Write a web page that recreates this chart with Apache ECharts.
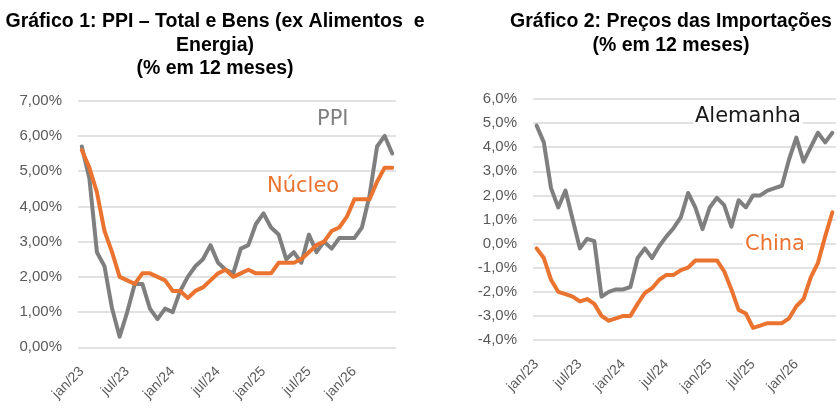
<!DOCTYPE html>
<html lang="pt">
<head>
    <meta charset="UTF-8">
    <title>PPI e Preços das Importações</title>
    <script src="https://cdn.jsdelivr.net/npm/echarts@6.0.0/dist/echarts.min.js"></script>
    <style>
        html, body { margin: 0; padding: 0; background: #fff; }
    </style>
</head>
<body>
    <div id="main" style="width: 840px; height: 420px;"></div>

    <script type="text/javascript">
        // meses jan/23 .. jun/26
        const months = ['jan','fev','mar','abr','mai','jun','jul','ago','set','out','nov','dez'];
        const categories = [];
        for (let y = 23; y <= 26; y++) {
            months.forEach(m => categories.push(m + '/' + y));
        }
        categories.length = 42;

        // Gráfico 1
        const ppi = [5.7, 4.8, 2.7, 2.3, 1.1, 0.3, 1.0, 1.8, 1.8, 1.1, 0.8, 1.1,
                     1.0, 1.6, 2.0, 2.3, 2.5, 2.9, 2.4, 2.2, 2.1, 2.8, 2.9, 3.5,
                     3.8, 3.4, 3.2, 2.5, 2.7, 2.4, 3.2, 2.7, 3.0, 2.8, 3.1, 3.1,
                     3.1, 3.4, 4.3, 5.7, 6.0, 5.5];
        const nucleo = [5.6, 5.1, 4.4, 3.3, 2.7, 2.0, 1.9, 1.8, 2.1, 2.1, 2.0, 1.9,
                        1.6, 1.6, 1.4, 1.6, 1.7, 1.9, 2.1, 2.2, 2.0, 2.1, 2.2, 2.1,
                        2.1, 2.1, 2.4, 2.4, 2.4, 2.5, 2.7, 2.9, 3.0, 3.3, 3.4, 3.7,
                        4.2, 4.2, 4.2, 4.7, 5.1, 5.1];

        // Gráfico 2
        const alemanha = [4.9, 4.2, 2.3, 1.5, 2.2, 1.0, -0.2, 0.2, 0.1, -2.2, -2.0, -1.9,
                          -1.9, -1.8, -0.6, -0.2, -0.6, -0.1, 0.3, 0.65, 1.1, 2.1, 1.5, 0.6,
                          1.5, 1.9, 1.6, 0.7, 1.8, 1.5, 2.0, 2.0, 2.2, 2.3, 2.4, 3.5,
                          4.4, 3.4, 4.0, 4.6, 4.2, 4.6];
        const china = [-0.2, -0.6, -1.5, -2.0, -2.1, -2.2, -2.4, -2.3, -2.5, -3.0, -3.2, -3.1,
                       -3.0, -3.0, -2.5, -2.05, -1.85, -1.5, -1.3, -1.3, -1.1, -1.0, -0.7, -0.7,
                       -0.7, -0.7, -1.15, -1.9, -2.75, -2.9, -3.5, -3.4, -3.3, -3.3, -3.3, -3.1,
                       -2.6, -2.3, -1.4, -0.8, 0.3, 1.3];

        const grey = '#7f7f7f';
        const orange = '#eb7330';
        const labelColor = '#595959';

        let myChart = echarts.init(document.getElementById('main'));

        const xAxisBase = {
            type: 'category',
            data: categories,
            boundaryGap: true,
            axisLine: {show: false},
            axisTick: {show: false},
            axisLabel: {
                interval: 5,
                rotate: 45,
                margin: 22,
                color: labelColor,
                fontFamily: 'Liberation Sans',
                fontSize: 14
            }
        };

        const yAxisBase = {
            type: 'value',
            interval: 1,
            axisLine: {show: false},
            axisTick: {show: false},
            splitLine: {lineStyle: {color: '#d9d9d9', width: 1.5}},
            axisLabel: {
                margin: 16,
                color: labelColor,
                fontFamily: 'Liberation Sans',
                fontSize: 15
            }
        };

        const lineBase = {
            type: 'line',
            symbol: 'none',
            smooth: false,
            lineStyle: {width: 4, join: 'round', cap: 'round'}
        };

        const titleStyle = {
            fontFamily: 'Liberation Sans',
            fontWeight: 'bold',
            fontSize: 19.5,
            lineHeight: 23.5,
            color: '#000'
        };

        const annot = (x, y, text, color) => ({
            type: 'text',
            x: x, y: y,
            z: 100,
            style: {
                text: text,
                fill: color,
                font: '21px "DejaVu Sans"',
                textVerticalAlign: 'middle',
                backgroundColor: '#fff',
                padding: [0, 2]
            }
        });

        let options = {
            animation: false,
            title: [
                {
                    text: 'Gráfico 1: PPI – Total e Bens (ex Alimentos  e\nEnergia)\n(% em 12 meses)',
                    left: 215, top: 10, padding: 0,
                    textAlign: 'center',
                    textStyle: titleStyle
                },
                {
                    text: 'Gráfico 2: Preços das Importações\n(% em 12 meses)',
                    left: 671, top: 10, padding: 0,
                    textAlign: 'center',
                    textStyle: titleStyle
                }
            ],
            grid: [
                {left: 78, right: 444, top: 100.7, bottom: 72.7},
                {left: 533, right: 4, top: 99, bottom: 80}
            ],
            xAxis: [
                Object.assign({gridIndex: 0}, xAxisBase),
                Object.assign({gridIndex: 1}, xAxisBase)
            ],
            yAxis: [
                Object.assign({}, yAxisBase, {
                    gridIndex: 0, min: 0, max: 7,
                    axisLabel: Object.assign({}, yAxisBase.axisLabel, {
                        formatter: v => v.toFixed(2).replace('.', ',') + '%'
                    })
                }),
                Object.assign({}, yAxisBase, {
                    gridIndex: 1, min: -4, max: 6,
                    axisLabel: Object.assign({}, yAxisBase.axisLabel, {
                        formatter: v => v.toFixed(1).replace('.', ',') + '%'
                    })
                })
            ],
            series: [
                Object.assign({}, lineBase, {name: 'PPI', xAxisIndex: 0, yAxisIndex: 0, data: ppi,
                    color: grey, z: 2}),
                Object.assign({}, lineBase, {name: 'Núcleo', xAxisIndex: 0, yAxisIndex: 0, data: nucleo,
                    color: orange, z: 3}),
                Object.assign({}, lineBase, {name: 'Alemanha', xAxisIndex: 1, yAxisIndex: 1, data: alemanha,
                    color: grey, z: 2}),
                Object.assign({}, lineBase, {name: 'China', xAxisIndex: 1, yAxisIndex: 1, data: china,
                    color: orange, z: 3})
            ],
            graphic: [
                annot(315, 120, 'PPI', grey),
                annot(265, 187, 'Núcleo', orange),
                annot(693, 117, 'Alemanha', '#1a1a1a'),
                annot(743, 245, 'China', orange)
            ]
        };

        myChart.setOption(options);
    </script>
</body>
</html>
